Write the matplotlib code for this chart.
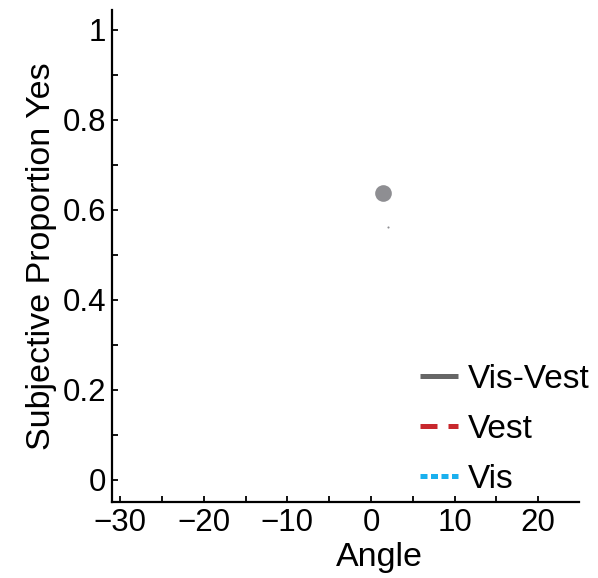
import matplotlib.pyplot as plt

plt.rcParams['font.family'] = ['Liberation Sans', 'DejaVu Sans']

# data
angle_big = [1.4]
prop_big = [0.637]
angle_small = [2.0]
prop_small = [0.562]

series_names = ["Vis-Vest", "Vest", "Vis"]
series_colors = ["#666666", "#c8282d", "#1ab0ee"]

xticks = [-30, -20, -10, 0, 10, 20]
yticks = [0, 0.2, 0.4, 0.6, 0.8, 1]
yticklabels = ["0", "0.2", "0.4", "0.6", "0.8", "1"]

fig = plt.figure(figsize=(5.98, 5.78), dpi=100)
ax = fig.add_axes([111.7 / 598, 1 - 502.3 / 578, (579.3 - 111.7) / 598, (502.3 - 10) / 578])

ax.plot(angle_big, prop_big, 'o', color="#8e8e92", markersize=12, markeredgewidth=0)
ax.plot(angle_small, prop_small, 'o', color="#8e8e92", markersize=1.5, markeredgewidth=0)

# the three fit lines have nothing visible in range, only their legend entries
ax.plot([], [], color=series_colors[0], linewidth=3.6, solid_capstyle='butt', label=series_names[0])
ax.plot([], [], color=series_colors[1], linewidth=3.6, dashes=(3.4, 2.2), dash_capstyle='butt', label=series_names[1])
ax.plot([], [], color=series_colors[2], linewidth=3.6, dashes=(1.4, 0.7), dash_capstyle='butt', label=series_names[2])

ax.set_xlim(-31, 24.9)
ax.set_ylim(-0.05, 1.044)

ax.set_xticks(xticks)
ax.set_xticks([-25, -15, -5, 5, 15], minor=True)
ax.set_yticks(yticks)
ax.set_yticklabels(yticklabels)
ax.set_yticks([0.1, 0.3, 0.5, 0.7, 0.9], minor=True)

ax.tick_params(which='both', direction='in', length=4.5, width=1.3, labelsize=22.5, pad=4)
ax.tick_params(axis='x', pad=4)

for s in ['top', 'right']:
    ax.spines[s].set_visible(False)
for s in ['left', 'bottom']:
    ax.spines[s].set_linewidth(1.6)

ax.set_xlabel("Angle", fontsize=24.5, labelpad=1)
ax.xaxis.set_label_coords((379 - 111.7) / 467.6, -0.081)
ax.set_ylabel("Subjective Proportion Yes", fontsize=24.5, labelpad=4)

ax.legend(loc='upper left', bbox_to_anchor=(0.659, 0.281), frameon=False, fontsize=24,
          handlelength=1.15, handletextpad=0.28, labelspacing=0.57, borderpad=0, borderaxespad=0)

fig.savefig("out.png", dpi=100)
